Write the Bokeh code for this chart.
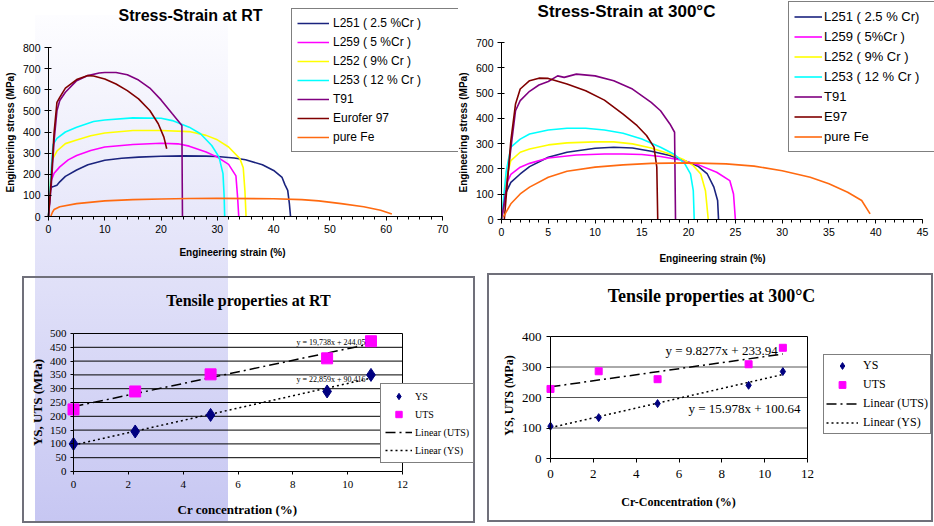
import numpy as np
from bokeh.plotting import figure
from bokeh.models import Range1d, SingleIntervalTicker, Legend, LegendItem, Label, Spacer
from bokeh.layouts import row, column
from bokeh.embed import file_html
from bokeh.resources import INLINE

# ---------------- Stress-Strain at RT ----------------
rt_names = ["L251 ( 2.5 %Cr )", "L259 ( 5 %Cr )", "L252 ( 9% Cr )", "L253 ( 12 % Cr )",
            "T91", "Eurofer 97", "pure Fe"]
rt_L251_strain = [0, 0.3, 0.6, 1.0, 1.5, 2.0, 3.0, 5, 7, 10, 13, 16, 20, 24, 28, 30, 33, 35, 38, 40, 41.5, 42.0, 42.5, 42.8, 43.0]
rt_L251_stress = [0, 125, 140, 143, 148, 164, 190, 220, 245, 266, 276, 281, 285, 287, 286, 284, 277, 269, 245, 218, 185, 151, 124, 60, 0]
rt_L259_strain = [0, 0.3, 0.5, 1.0, 2.0, 3.5, 5, 7.5, 10, 15, 20, 23, 25, 28, 30, 32, 33.3, 33.6, 33.8]
rt_L259_stress = [0, 120, 171, 205, 235, 268, 289, 312, 329, 341, 347, 344, 333, 305, 281, 247, 192, 90, 0]
rt_L252_strain = [0, 0.4, 0.7, 1.5, 3.0, 5, 7.5, 10, 15, 20, 25, 28, 30, 32, 34, 34.6, 34.9, 35.1]
rt_L252_stress = [0, 180, 270, 310, 345, 362, 382, 395, 407, 407, 402, 384, 363, 329, 274, 231, 120, 0]
rt_L253_strain = [0, 0.5, 0.8, 1.5, 3.0, 5, 8, 10, 15, 20, 22, 25, 27, 29, 30.3, 31.0, 31.2, 31.3]
rt_L253_stress = [0, 230, 340, 370, 400, 423, 450, 457, 467, 465, 454, 423, 392, 336, 281, 203, 100, 0]
rt_T91_strain = [0, 0.5, 1.0, 1.5, 2.0, 3.0, 5, 7, 9, 10, 12, 14, 16, 18, 20, 22, 23.7, 23.75, 23.8]
rt_T91_stress = [0, 150, 360, 500, 549, 588, 643, 667, 679, 682, 682, 671, 646, 608, 552, 486, 431, 200, 0]
rt_E97_strain = [0, 0.5, 1.0, 1.5, 2.0, 3.0, 5, 7, 8, 10, 12, 14, 16, 18, 19.5, 20.5, 21.0]
rt_E97_stress = [0, 180, 400, 540, 564, 608, 648, 667, 665, 651, 627, 596, 557, 502, 439, 376, 321]
rt_Fe_strain = [0.4, 0.7, 1.0, 2.0, 5, 10, 15, 20, 25, 30, 40, 45, 48, 52, 56, 59, 61]
rt_Fe_stress = [0, 20, 33, 46, 61, 74, 80, 83, 85, 86, 84, 80, 74, 61, 46, 30, 12]

# ---------------- Stress-Strain at 300 C ----------------
ht_names = ["L251 ( 2.5 % Cr)", "L259 ( 5%Cr )", "L252 ( 9% Cr )", "L253 ( 12 % Cr )",
            "T91", "E97", "pure Fe"]
ht_L251_strain = [0, 0.5, 1, 2, 3, 5, 7, 10, 12, 14, 16, 18, 20, 21, 22, 22.7, 23.1, 23.2]
ht_L251_stress = [0, 108, 147, 180, 209, 246, 266, 282, 286, 283, 270, 253, 226, 211, 180, 128, 75, 0]
ht_L259_strain = [0, 0.5, 1, 2, 3, 5, 8, 11, 13, 15, 17, 19, 21, 23, 24.4, 24.8, 25.0]
ht_L259_stress = [0, 140, 178, 207, 222, 243, 255, 259, 259, 257, 249, 236, 217, 187, 154, 101, 0]
ht_L252_strain = [0, 0.5, 1, 2, 3, 5, 7, 10, 12, 14, 16, 18, 19.5, 20.5, 21.3, 21.8, 22.1]
ht_L252_stress = [0, 160, 233, 266, 279, 295, 303, 307, 307, 299, 283, 259, 236, 213, 180, 114, 0]
ht_L253_strain = [0, 0.5, 1, 2, 3, 5, 7, 9, 11, 13, 15, 17, 18.5, 19.6, 20.2, 20.5, 20.6]
ht_L253_stress = [0, 190, 286, 318, 338, 354, 361, 361, 354, 341, 318, 286, 257, 220, 180, 114, 0]
ht_T91_strain = [0, 0.5, 1.0, 1.5, 2, 3, 4, 5, 6, 6.7, 8, 10, 12, 14, 16, 17, 18, 18.5, 18.6]
ht_T91_stress = [0, 120, 280, 430, 470, 507, 532, 546, 568, 562, 575, 568, 549, 516, 463, 430, 378, 345, 0]
ht_E97_strain = [0.3, 1.0, 1.5, 2, 3, 4, 5, 7, 9, 11, 13, 14.5, 15.5, 16.3, 16.6, 16.7]
ht_E97_stress = [0, 312, 457, 516, 549, 559, 558, 536, 509, 472, 417, 371, 332, 286, 207, 0]
ht_Fe_strain = [0.2, 1, 2, 3, 5, 7, 10, 13, 16, 20, 24, 27, 30, 33, 35, 37, 38.5, 39.4]
ht_Fe_stress = [10, 62, 101, 128, 167, 191, 207, 216, 222, 224, 220, 211, 193, 167, 141, 108, 75, 22]

curve_colors = ["#1a237e", "#ff00ff", "#ffff00", "#00ffff", "#800080", "#800000", "#ff6a10"]

# ---------------- Tensile properties ----------------
cr_conc = [0, 2.25, 5.0, 9.25, 10.85]
rt_ys = [100, 145, 205, 290, 350]
rt_uts = [225, 290, 352, 410, 472]
ht_ys = [106, 134, 180, 240, 285]
ht_uts = [228, 286, 260, 309, 363]
rt_grid_y = [50, 100, 150, 200, 250, 300, 350, 400, 450, 500]
ht_grid_y = [100, 200, 300, 400]
rt_eq_uts = "y = 19,738x + 244,05"
rt_eq_ys = "y = 22,859x + 90,416"
ht_eq_uts = "y = 9.8277x + 233.94"
ht_eq_ys = "y = 15.978x + 100.64"

SANS = "Liberation Sans"
SERIF = "Liberation Serif"


class Geo:
    """pixel geometry of the data box inside a figure (figure pixel coords)"""
    def __init__(self, w, h, L, R, T, B, x1, y1):
        self.w, self.h, self.L, self.R, self.T, self.B = w, h, L, R, T, B
        self.x1, self.y1 = x1, y1
        self.sx = (R - L) / x1
        self.sy = (B - T) / y1
        self.xstart = -L / self.sx
        self.xend = x1 + (w - R) / self.sx
        self.ystart = -(h - B) / self.sy
        self.yend = y1 + T / self.sy

    def d(self, px, py):
        return (px - self.L) / self.sx, (self.B - py) / self.sy


def make_fig(g):
    p = figure(width=g.w, height=g.h, x_range=Range1d(g.xstart, g.xend),
               y_range=Range1d(g.ystart, g.yend),
               output_backend="svg", toolbar_location=None, title=None,
               min_border_left=0, min_border_right=0, min_border_top=0, min_border_bottom=0,
               background_fill_color=None, border_fill_color=None, outline_line_color=None)
    p.xaxis.fixed_location = 0
    p.yaxis.fixed_location = 0
    return p


def style_axes(p, g, font, tick_size):
    p.xaxis.bounds = (0, g.x1)
    p.yaxis.bounds = (0, g.y1)
    for ax in p.axis:
        ax.axis_line_color = "black"
        ax.major_tick_line_color = "black"
        ax.minor_tick_line_color = "black"
        ax.major_label_text_font = font
        ax.major_label_text_font_size = tick_size
        ax.major_label_text_color = "black"
    p.grid.visible = False


def add_text(p, g, text, font, size, px, py, angle=0.0):
    x, y = g.d(px, py)
    p.add_layout(Label(x=x, y=y, text=text, text_font=font, text_font_size=size,
                       text_font_style="bold", text_color="black", angle=angle,
                       text_align="center", text_baseline="middle"))


def stress_panel(g, xint, title, tpos, tsize, xlpos, ylpos, strains, stresses, names,
                 leg_loc, leg_opts):
    p = make_fig(g)
    p.xaxis.ticker = SingleIntervalTicker(interval=xint, num_minor_ticks=5)
    p.yaxis.ticker = SingleIntervalTicker(interval=100, num_minor_ticks=0)
    style_axes(p, g, SANS, "10.5px")
    p.xaxis.major_tick_in = 0
    p.xaxis.major_tick_out = 4
    p.xaxis.minor_tick_in = 0
    p.xaxis.minor_tick_out = 3
    p.xaxis.major_label_standoff = 4
    p.yaxis.major_tick_in = 3
    p.yaxis.major_tick_out = 4
    p.yaxis.major_label_standoff = 4
    add_text(p, g, title, SANS, tsize, *tpos)
    add_text(p, g, "Engineering strain (%)", SANS, "10px", *xlpos)
    add_text(p, g, "Engineering stress (MPa)", SANS, "10px", *ylpos, angle=np.pi / 2)
    items = []
    for sx, sy, nm, c in zip(strains, stresses, names, curve_colors):
        r = p.line(sx, sy, line_color=c, line_width=1.6)
        items.append(LegendItem(label=nm, renderers=[r]))
    leg = Legend(items=items, location=leg_loc, border_line_color="black", border_line_width=1,
                 background_fill_color="white", background_fill_alpha=1.0, margin=0,
                 label_text_font=SANS, label_text_color="black", **leg_opts)
    p.add_layout(leg)
    return p


def leg_xy(g, left_px, bottom_px):
    # legend location is measured from the frame's bottom-left corner (= canvas here)
    return (left_px, g.h - bottom_px)


gA = Geo(458, 270, 48, 442, 47, 216, 70, 800)
A = stress_panel(gA, 10, "Stress-Strain at RT", (190, 15), "16px", (232, 252), (10, 132),
                 [rt_L251_strain, rt_L259_strain, rt_L252_strain, rt_L253_strain, rt_T91_strain, rt_E97_strain, rt_Fe_strain],
                 [rt_L251_stress, rt_L259_stress, rt_L252_stress, rt_L253_stress, rt_T91_stress, rt_E97_stress, rt_Fe_stress],
                 rt_names, leg_xy(gA, 291, 152),
                 dict(padding=5, spacing=1, label_height=18, glyph_height=18, glyph_width=32,
                      label_standoff=4, label_width=120, label_text_font_size="12px"))

gB = Geo(476, 270, 43, 464, 42, 219, 45, 700)
B = stress_panel(gB, 5, "Stress-Strain at 300°C", (168, 11), "17px", (254, 258), (5, 132),
                 [ht_L251_strain, ht_L259_strain, ht_L252_strain, ht_L253_strain, ht_T91_strain, ht_E97_strain, ht_Fe_strain],
                 [ht_L251_stress, ht_L259_stress, ht_L252_stress, ht_L253_stress, ht_T91_stress, ht_E97_stress, ht_Fe_stress],
                 ht_names, leg_xy(gB, 330, 152),
                 dict(padding=5, spacing=1, label_height=19, glyph_height=19, glyph_width=28,
                      label_standoff=2, label_width=115, label_text_font_size="13px"))


def tensile_panel(g, yint, grid_y, grid_color, title, tpos, tsize, xlabel, xlpos, ylpos,
                  ys, uts, eqs, eqpos, eqsize, msizes, tick_size, label_size,
                  ticks, leg_loc, leg_opts, box_style):
    p = make_fig(g)
    p.styles = box_style
    p.xaxis.ticker = SingleIntervalTicker(interval=2, num_minor_ticks=0)
    p.yaxis.ticker = SingleIntervalTicker(interval=yint, num_minor_ticks=0)
    style_axes(p, g, SERIF, tick_size)
    for ax in p.axis:
        ax.major_tick_in = 0
        ax.major_tick_out = ticks[0]
    p.xaxis.major_label_standoff = ticks[1]
    p.yaxis.major_label_standoff = ticks[2]
    add_text(p, g, title, SERIF, tsize, *tpos)
    add_text(p, g, xlabel, SERIF, label_size, *xlpos)
    add_text(p, g, "YS, UTS (MPa)", SERIF, label_size, *ylpos, angle=np.pi / 2)

    # horizontal gridlines across the data box, and its right border
    n = len(grid_y)
    p.segment(x0=[0] * n, y0=grid_y, x1=[g.x1] * n, y1=grid_y,
              line_color=[grid_color] * (n - 1) + ["black"], line_width=1)
    p.segment(x0=[g.x1], y0=[0], x1=[g.x1], y1=[g.y1], line_color="black", line_width=1)

    x = np.array(cr_conc, dtype=float)
    xs_fit = [0.0, float(x.max())]
    k_u, b_u = np.polyfit(x, np.array(uts, dtype=float), 1)
    k_y, b_y = np.polyfit(x, np.array(ys, dtype=float), 1)
    r_lu = p.line(xs_fit, [b_u + k_u * v for v in xs_fit], line_color="black", line_width=1.5,
                  line_dash="10 4 2 4")
    r_ly = p.line(xs_fit, [b_y + k_y * v for v in xs_fit], line_color="black", line_width=1.5,
                  line_dash="2 3")
    r_ys = p.scatter(cr_conc, ys, marker="diamond", size=msizes[0], color="#000080")
    r_uts = p.scatter(cr_conc, uts, marker="square", size=msizes[1], color="#ff00ff")
    for txt, (lx, ly, base) in zip(eqs, eqpos):
        p.add_layout(Label(x=lx, y=ly, text=txt, text_font=SERIF, text_font_size=eqsize,
                           text_color="black", text_baseline=base))
    leg = Legend(items=[LegendItem(label="YS", renderers=[r_ys]),
                        LegendItem(label="UTS", renderers=[r_uts]),
                        LegendItem(label="Linear (UTS)", renderers=[r_lu]),
                        LegendItem(label="Linear (YS)", renderers=[r_ly])],
                 location=leg_loc, border_line_color="black", border_line_width=1,
                 background_fill_color="white", background_fill_alpha=1.0, margin=0,
                 label_text_font=SERIF, label_text_color="black", **leg_opts)
    p.add_layout(leg)
    return p


box = {"outline": "2px solid #70707a", "outline-offset": "-2px"}

gC = Geo(453, 247, 51, 380, 57, 195, 12, 500)
C = tensile_panel(gC, 50, rt_grid_y, "black", "Tensile properties at RT", (226, 24), "16px",
                  "Cr concentration (%)", (215, 233), (15, 126),
                  rt_ys, rt_uts, [rt_eq_uts, rt_eq_ys],
                  [(8.13, 451, "bottom"), (8.13, 349, "top")], "8px", (13, 11), "11px", "13px",
                  (3, 6, 4), leg_xy(gC, 358, 187),
                  dict(padding=4, spacing=2, label_height=16, glyph_height=16, glyph_width=27,
                       label_standoff=3, label_text_font_size="10px"), box)

gD = Geo(446, 249, 63, 320, 63, 185, 12, 400)
D = tensile_panel(gD, 100, ht_grid_y, "#555555", "Tensile properties at 300°C", (224, 22), "18px",
                  "Cr-Concentration (%)", (191, 228), (21, 122),
                  ht_ys, ht_uts, [ht_eq_uts, ht_eq_ys],
                  [(5.37, 354, "middle"), (6.44, 165, "middle")], "13px", (8, 7), "13px", "12px",
                  (4, 7, 5), leg_xy(gD, 336, 161),
                  dict(padding=2, spacing=2, label_height=17, glyph_height=17, glyph_width=32,
                       label_standoff=5, label_text_font_size="12px"), box)

top = row(A, B)
bottom = row(Spacer(width=22, height=250),
             column(Spacer(width=453, height=6), C),
             Spacer(width=12, height=250),
             column(Spacer(width=446, height=3), D))
page = column(top, bottom, styles={
    "background-image": "linear-gradient(to bottom, #fdfdff 0%, #c6c6f2 100%)",
    "background-repeat": "no-repeat",
    "background-position": "35px 15px",
    "background-size": "193px 511px",
})

open("out.html", "w").write(file_html(page, INLINE))
